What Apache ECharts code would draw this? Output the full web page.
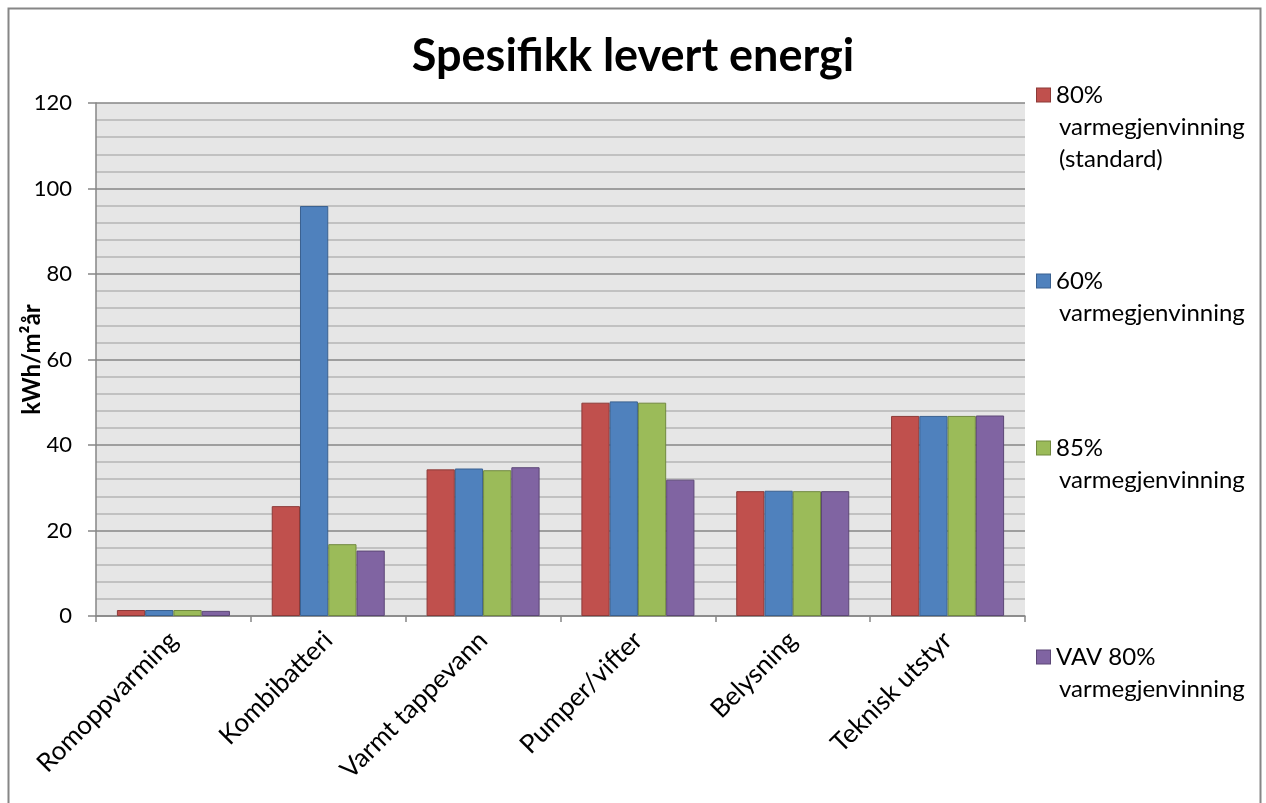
<!DOCTYPE html>
<html>
<head>
<meta charset="utf-8">
<script src="https://cdn.jsdelivr.net/npm/echarts@6/dist/echarts.min.js"></script>
<style>
  html, body { margin: 0; padding: 0; background: #fff; }
  #chart { width: 1266px; height: 803px; }
</style>
</head>
<body>
<div id="chart"></div>
<script>
// Delivered energy per end use, kWh/m²år, for four ventilation variants
const categories = ['Romoppvarming', 'Kombibatteri', 'Varmt tappevann', 'Pumper/vifter', 'Belysning', 'Teknisk utstyr'];
const seriesNames = [
  '80% varmegjenvinning (standard)',
  '60% varmegjenvinning',
  '85% varmegjenvinning',
  'VAV 80% varmegjenvinning'
];
const legendLines = [
  ['80%', 'varmegjenvinning', '(standard)'],
  ['60%', 'varmegjenvinning'],
  ['85%', 'varmegjenvinning'],
  ['VAV 80%', 'varmegjenvinning']
];
const rec80 = [1.4, 25.7, 34.3, 49.9, 29.2, 46.8];
const rec60 = [1.4, 95.9, 34.5, 50.2, 29.3, 46.8];
const rec85 = [1.4, 16.8, 34.1, 49.9, 29.2, 46.8];
const vav80 = [1.2, 15.3, 34.8, 31.9, 29.2, 46.9];
const yTicks = [0, 20, 40, 60, 80, 100, 120];

const seriesData = [rec80, rec60, rec85, vav80];
const fills = ['#C0504D', '#4F81BD', '#9BBB59', '#8064A2'];
const strokes = ['#8C3A38', '#3A6190', '#71893F', '#5C4776'];
const legendTops = [83, 269, 436, 645];
const FONT = 'Lato, "Open Sans", sans-serif';

const chart = echarts.init(document.getElementById('chart'), null, { renderer: 'canvas' });

// One legend block per series so each can sit at its own height,
// with the colour square on the first text line.
const legends = seriesNames.map((name, i) => ({
  show: true,
  data: [name],
  left: 1032,
  top: legendTops[i],
  orient: 'vertical',
  icon: 'none',
  itemWidth: 0,
  itemHeight: 0,
  itemGap: 0,
  padding: 0,
  selectedMode: true,
  formatter: () => legendLines[i]
    .map((l, k) => (k === 0 ? '{sq| }{gap| }' : '{ind| }') + '{t|' + l + '}')
    .join('\n'),
  textStyle: {
    padding: 0,
    rich: {
      sq: { width: 13, height: 13, backgroundColor: fills[i], borderColor: strokes[i], borderWidth: 1 },
      gap: { width: 6 },
      ind: { width: 22 },
      t: { fontFamily: FONT, fontSize: 24, lineHeight: 32, color: '#000' }
    }
  }
}));

const option = {
  animation: false,
  backgroundColor: '#ffffff',
  textStyle: { fontFamily: FONT },
  title: {
    text: 'Spesifikk levert energi',
    left: 'center',
    top: 29,
    textStyle: { fontFamily: FONT, fontWeight: 'bold', fontSize: 45, color: '#000' }
  },
  legend: legends,
  grid: {
    left: 96, right: 241, top: 103, bottom: 187,
    show: true,
    backgroundColor: '#E6E6E6',
    borderWidth: 0
  },
  xAxis: {
    type: 'category',
    data: categories,
    axisLine: { show: true, lineStyle: { color: '#868686', width: 1.5 } },
    axisTick: { show: true, length: 6, lineStyle: { color: '#868686', width: 1.5 } },
    axisLabel: { rotate: 45, margin: 20, fontFamily: FONT, fontSize: 26, color: '#000', interval: 0 },
    splitLine: { show: false }
  },
  yAxis: {
    type: 'value',
    min: yTicks[0],
    max: yTicks[yTicks.length - 1],
    interval: 20,
    name: 'kWh/m²år',
    nameLocation: 'middle',
    nameGap: 52,
    nameMoveOverlap: false,
    nameTextStyle: { fontFamily: FONT, fontWeight: 'bold', fontSize: 24, color: '#000' },
    axisLine: { show: true, lineStyle: { color: '#868686', width: 1.5 } },
    axisTick: { show: true, length: 8, lineStyle: { color: '#868686', width: 1.5 } },
    axisLabel: { margin: 24, fontFamily: FONT, fontSize: 22, color: '#000' },
    splitLine: { show: true, lineStyle: { color: '#868686', width: 1.5 } },
    minorTick: { show: false, splitNumber: 5 },
    minorSplitLine: { show: true, lineStyle: { color: '#B5B5B5', width: 1.5 } }
  },
  series: seriesNames.map((name, i) => ({
    name,
    type: 'bar',
    data: seriesData[i],
    barGap: '0%',
    barCategoryGap: '27%',
    itemStyle: { color: fills[i], borderColor: strokes[i], borderWidth: 1 }
  })),
  graphic: [{
    type: 'rect',
    silent: true,
    shape: { x: 8.5, y: 8.5, width: 1252, height: 810 },
    style: { fill: 'none', stroke: '#868686', lineWidth: 2 }
  }]
};

chart.setOption(option);
</script>
</body>
</html>
